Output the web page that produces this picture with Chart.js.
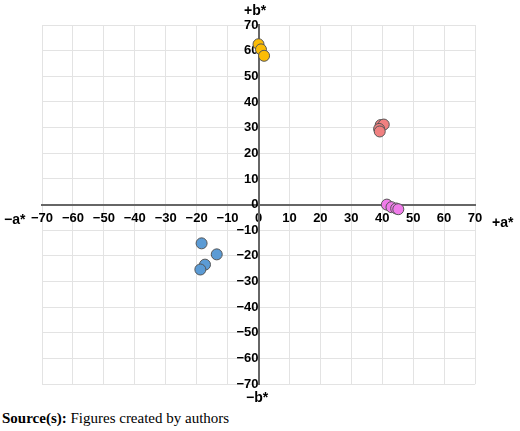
<!DOCTYPE html><html><head><script src="https://cdn.jsdelivr.net/npm/chart.js@4"></script>
<style>body{margin:0;background:#fff;width:520px;height:431px;position:relative;font-family:Arial,"Liberation Sans",sans-serif}
.l{position:absolute;font-weight:bold;font-size:14px;color:#000}
#src{position:absolute;left:2px;top:410px;font-family:"Liberation Serif","Times New Roman",serif;font-size:15px}</style></head><body>
<div style="position:absolute;left:0;top:0;width:520px;height:402px"><canvas id="c"></canvas></div>
<div class="l" style="left:244px;top:2px">+b*</div>
<div class="l" style="left:246px;top:389px">−b*</div>
<div class="l" style="left:4px;top:211px">−a*</div>
<div class="l" style="left:492px;top:214px">+a*</div>
<div id="src"><b>Source(s):</b> Figures created by authors</div>
<script>
const yellowX=[0,0.8,1.8], yellowY=[62.5,60.5,58];
const redX=[39.5,40.5,39,39.2], redY=[31,31.2,29.5,28.5];
const pinkX=[41.5,43,44.5,45.2], pinkY=[0,-1,-1.5,-1.8];
const blueX=[-18.4,-13.5,-17.3,-18.8], blueY=[-15.1,-19.4,-23.4,-25.3];
const xTicks=[-70,-60,-50,-40,-30,-20,-10,0,10,20,30,40,50,60,70];
const pts=(xs,ys)=>xs.map((x,i)=>({x,y:ys[i]}));
const ds=(xs,ys,c)=>({data:pts(xs,ys),backgroundColor:c,borderColor:'#555',borderWidth:1,pointRadius:5.5});
const fmt=v=>String(v).replace('-','−');
new Chart(document.getElementById('c'),{type:'scatter',data:{datasets:[
ds(yellowX,yellowY,'#FBBC05'),ds(redX,redY,'#F08080'),ds(pinkX,pinkY,'#F07CEA'),ds(blueX,blueY,'#5B9BD5')]},
options:{responsive:true,maintainAspectRatio:false,animation:false,
layout:{padding:{left:42,right:45,top:25,bottom:15}},
plugins:{legend:{display:false},tooltip:{enabled:false}},
scales:{x:{type:'linear',min:-70,max:70,position:{y:0},
 afterBuildTicks:a=>{a.ticks=xTicks.map(v=>({value:v}))},
 grid:{color:'#e3e3e3',drawTicks:false},border:{color:'#666',width:2},
 ticks:{color:'#000',font:{weight:'bold',size:13},padding:6,maxRotation:0,callback:fmt}},
y:{type:'linear',min:-70,max:70,position:{x:0},
 afterBuildTicks:a=>{a.ticks=xTicks.map(v=>({value:v}))},
 grid:{color:'#e3e3e3',drawTicks:false},border:{color:'#666',width:2},
 ticks:{color:'#000',font:{weight:'bold',size:13},padding:10,callback:fmt}}}}});
</script></body></html>
